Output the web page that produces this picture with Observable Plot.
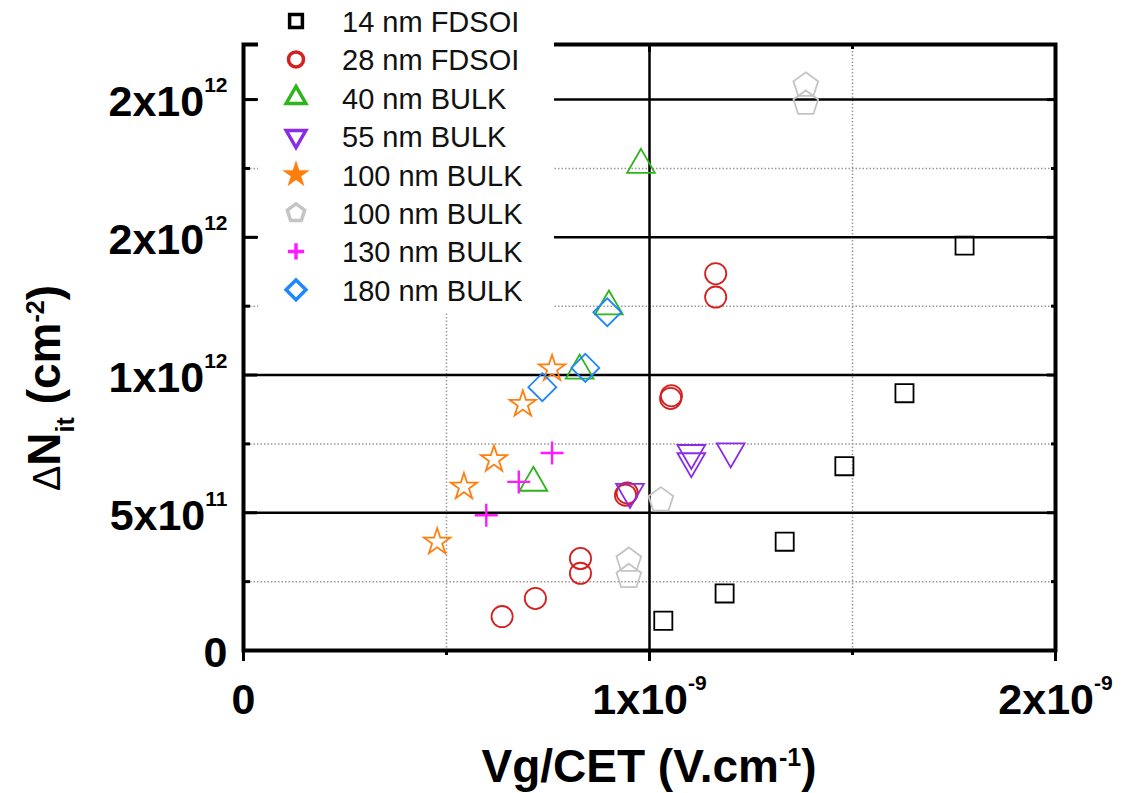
<!DOCTYPE html>
<html><head><meta charset="utf-8">
<script src="https://cdn.jsdelivr.net/npm/d3@7"></script>
<script src="https://cdn.jsdelivr.net/npm/@observablehq/plot@0.6"></script>
<style>
body{margin:0;background:#fff;}
#wrap{position:relative;width:1122px;height:793px;overflow:hidden;background:#fff;}
#legend{position:absolute;left:258px;top:0;width:296px;height:312px;background:#fff;}
</style></head><body><div id="wrap"></div>
<script>
// ---- data (x: Vg/CET in V.cm^-1, y: ΔNit in cm^-2) ----
const seriesNames = ["14 nm FDSOI","28 nm FDSOI","40 nm BULK","55 nm BULK","100 nm BULK","100 nm BULK","130 nm BULK","180 nm BULK"];
const seriesColors = ["#000000","#d42020","#2db51b","#8a2be8","#ff7f0e","#c4c4c4","#ff1aff","#1f86ff"];

const x14 = [1.034e-9,1.185e-9,1.333e-9,1.480e-9,1.628e-9,1.776e-9];
const y14 = [0.108e12,0.207e12,0.395e12,0.669e12,0.934e12,1.470e12];

const x28 = [0.637e-9,0.719e-9,0.830e-9,0.830e-9,0.941e-9,0.945e-9,1.052e-9,1.054e-9,1.163e-9,1.163e-9];
const y28 = [0.123e12,0.189e12,0.280e12,0.334e12,0.564e12,0.572e12,0.915e12,0.925e12,1.283e12,1.368e12];

const x40 = [0.714e-9,0.828e-9,0.900e-9,0.979e-9];
const y40 = [0.609e12,1.016e12,1.249e12,1.763e12];

const x55 = [0.952e-9,1.103e-9,1.103e-9,1.200e-9];
const y55 = [0.576e12,0.687e12,0.717e12,0.723e12];

const x100a = [0.477e-9,0.543e-9,0.617e-9,0.688e-9,0.760e-9];
const y100a = [0.394e12,0.594e12,0.694e12,0.894e12,1.023e12];

const x100b = [0.949e-9,0.949e-9,1.028e-9,1.385e-9,1.385e-9];
const y100b = [0.268e12,0.327e12,0.546e12,1.986e12,2.052e12];

const x130 = [0.598e-9,0.678e-9,0.760e-9];
const y130 = [0.491e12,0.612e12,0.717e12];

const x180 = [0.736e-9,0.842e-9,0.896e-9];
const y180 = [0.956e12,1.026e12,1.228e12];

const xTicks = [0, 1e-9, 2e-9];
const xTickLabels = ["0", "1x10^-9", "2x10^-9"];
const xMinor = [0.5e-9, 1.5e-9];
const yTicks = [0, 5e11, 1e12, 1.5e12, 2e12];
const yTickLabels = ["0", "5x10^11", "1x10^12", "2x10^12", "2x10^12"];
const yMinor = [2.5e11, 7.5e11, 1.25e12, 1.75e12];

// ---- symbols ----
const invTriangle = {draw(ctx, size){
  const s = Math.sqrt(size*4/Math.sqrt(3)); const h = s*Math.sqrt(3)/2;
  ctx.moveTo(-s/2,-h/3); ctx.lineTo(s/2,-h/3); ctx.lineTo(0,2*h/3); ctx.closePath();
}};
const pentagon = {draw(ctx, size){
  const R = Math.sqrt(size/(2.5*Math.sin(2*Math.PI/5)));
  for (let k=0;k<5;k++){ const a=-Math.PI/2+k*2*Math.PI/5; const px=R*Math.cos(a), py=R*Math.sin(a); if(k) ctx.lineTo(px,py); else ctx.moveTo(px,py); }
  ctx.closePath();
}};
const plusSym = {draw(ctx, size){
  const a = Math.sqrt(size/Math.PI)*1.15;
  ctx.moveTo(-a,0); ctx.lineTo(a,0); ctx.moveTo(0,-a); ctx.lineTo(0,a);
}};
const seriesSymbols = [d3.symbolSquare, d3.symbolCircle, d3.symbolTriangle, invTriangle, d3.symbolStar, pentagon, plusSym, d3.symbolDiamond2];
const seriesR = [10.2, 10.6, 10.3, 10.3, 8.3, 11.3, 10, 12.6];
const seriesSW = [1.8, 1.8, 1.8, 1.8, 1.8, 1.8, 2.4, 1.8];
const seriesX = [x14,x28,x40,x55,x100a,x100b,x130,x180];
const seriesY = [y14,y28,y40,y55,y100a,y100b,y130,y180];

const series = seriesNames.map((name,i)=>({
  name, color: seriesColors[i], symbol: seriesSymbols[i], r: seriesR[i], sw: seriesSW[i],
  data: seriesX[i].map((x,j)=>({x, y: seriesY[i][j]}))
}));

const W=1122, H=793, mL=243, mR=67, mT=44, mB=143;
const plotW = W-mL-mR, plotH = H-mT-mB;
const xLab = new Map(xTicks.map((v,i)=>[v,xTickLabels[i]]));
const yLab = new Map(yTicks.map((v,i)=>[v,yTickLabels[i]]));
const FONT = "'Liberation Sans', Arial, Helvetica, sans-serif";

const chart = Plot.plot({
  width: W, height: H, marginLeft: mL, marginRight: mR, marginTop: mT, marginBottom: mB,
  style: {fontFamily: FONT, color: "#000", background: "#fff", overflow: "visible"},
  x: {domain: [0, 2e-9]},
  y: {domain: [0, 2.2e12]},
  marks: [
    Plot.ruleY(yMinor, {stroke: "#999", strokeWidth: 1.5, strokeDasharray: "1.5,2"}),
    Plot.ruleX(xMinor, {stroke: "#999", strokeWidth: 1.5, strokeDasharray: "1.5,2"}),
    Plot.ruleY(yTicks.filter(d=>d>0), {stroke: "#000", strokeWidth: 2.5}),
    Plot.ruleX([1e-9], {stroke: "#000", strokeWidth: 2.5}),
    // inward ticks left / right
    Plot.tickY(yTicks, {strokeWidth: 3, insetRight: plotW-14}),
    Plot.tickY(yMinor, {strokeWidth: 3, insetRight: plotW-7}),
    Plot.tickY(yTicks, {strokeWidth: 3, insetLeft: plotW-8}),
    Plot.tickY(yMinor, {strokeWidth: 3, insetLeft: plotW-4}),
    // top inward, bottom outward
    Plot.tickX(xTicks, {strokeWidth: 3, insetBottom: plotH-8}),
    Plot.tickX(xMinor, {strokeWidth: 3, insetBottom: plotH-5}),
    Plot.tickX(xTicks, {strokeWidth: 3, insetTop: plotH, insetBottom: -11}),
    Plot.tickX(xMinor, {strokeWidth: 3, insetTop: plotH, insetBottom: -5}),
    Plot.frame({stroke: "#000", strokeWidth: 4}),
    Plot.axisY(yTicks, {anchor: "left", tickSize: 0, tickPadding: 16, dy: 3, tickFormat: d=>yLab.get(d), fontSize: 43, fontWeight: "bold", label: null}),
    Plot.axisX(xTicks, {anchor: "bottom", tickSize: 0, tickPadding: 33, tickFormat: d=>xLab.get(d), fontSize: 43, fontWeight: "bold", label: null}),
    ...series.map(s => Plot.dot(s.data, {x: "x", y: "y", symbol: s.symbol, r: s.r, stroke: s.color, fill: "none", strokeWidth: s.sw}))
  ]
});

// superscripts in tick labels
d3.select(chart).selectAll("text").each(function(){
  const t = this.textContent; const m = t.match(/^(.*)\^(.*)$/);
  if (!m) return;
  const sel = d3.select(this); sel.text(null);
  sel.append("tspan").text(m[1]);
  sel.append("tspan").attr("dy", -24).attr("font-size", 21).text(m[2]);
});

// axis titles
const svg = d3.select(chart);
const xs = chart.scale("x").range;
const xt = svg.append("text").attr("x", (xs[0]+xs[1])/2).attr("y", 782)
  .attr("text-anchor","middle").attr("font-size",46).attr("font-weight","bold").attr("font-family",FONT).attr("fill","#000");
xt.append("tspan").text("Vg/CET (V.cm");
xt.append("tspan").attr("dy",-16).attr("font-size",25).text("-1");
xt.append("tspan").attr("dy",16).text(")");

const yt = svg.append("text").attr("transform","translate(60,388) rotate(-90)")
  .attr("text-anchor","middle").attr("font-size",46).attr("font-weight","bold").attr("font-family",FONT).attr("fill","#000");
yt.append("tspan").attr("font-weight","normal").attr("font-size",38).text("Δ");
yt.append("tspan").text("N");
yt.append("tspan").attr("dy",14).attr("font-size",25).text("it");
yt.append("tspan").attr("dy",-14).text(" (cm");
yt.append("tspan").attr("dy",-16).attr("font-size",25).text("-2");
yt.append("tspan").attr("dy",16).text(")");

const wrap = document.getElementById("wrap");
wrap.appendChild(chart);

// legend overlay
const leg = d3.select(wrap).append("div").attr("id","legend");
const lsvg = leg.append("svg").attr("width",296).attr("height",312);
series.forEach((s,i)=>{
  const cy = 21 + i*38.4;
  const size = Math.PI*s.r*s.r*(i===4 ? 0.4 : 0.5);
  lsvg.append("path").attr("transform",`translate(38,${cy})`)
    .attr("d", d3.symbol(s.symbol, size)())
    .attr("fill", i===4 ? s.color : "none").attr("stroke", s.color).attr("stroke-width", 3.5);
  lsvg.append("text").attr("x",84).attr("y",cy+11).attr("font-size",29).attr("font-family",FONT).attr("fill","#111").text(s.name);
});
</script></body></html>
